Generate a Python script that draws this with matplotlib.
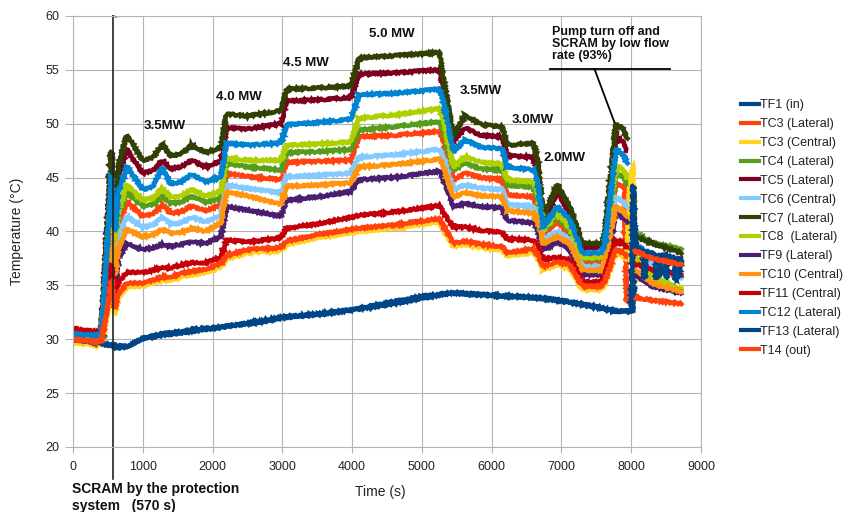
import numpy as np
import matplotlib
matplotlib.use("Agg")
import matplotlib.pyplot as plt

plt.rcParams['font.family'] = ['Liberation Sans', 'DejaVu Sans']

nan = np.nan

# sample times (s) shared by the thermocouple series
t = [0, 400, 470, 550, 600, 650, 770, 1000, 1150, 1280,
     1400, 1550, 1700, 1900, 2120, 2200, 2500, 2980, 3060, 3500,
     3980, 4100, 4600, 5250, 5300, 5450, 5620, 5850, 6150, 6220,
     6600, 6660, 6740, 6940, 7120, 7300, 7560, 7620, 7780, 7900,
     7935, 7990, 8025, 8050, 8300, 8720]

tf1 = [30.0, 29.6, 29.5, 29.4, 29.3, 29.2, 29.3, 30.1, 30.3, 30.5,
       30.6, 30.7, 30.9, 31.0, 31.1, 31.2, 31.4, 32.0, 32.1, 32.3,
       32.7, 32.8, 33.3, 34.1, 34.2, 34.3, 34.2, 34.1, 34.0, 34.0,
       33.9, 33.9, 33.8, 33.6, 33.4, 33.2, 32.9, 32.8, 32.6, 32.6,
       32.6, 32.6, 32.7, 38.3, 37.6, 37.2]
tc3_lat = [30.3, 30.0, 37.0, 42.0, 38.0, 40.5, 42.8, 41.4, 41.6, 42.5,
           41.7, 41.8, 42.4, 41.9, 42.5, 45.4, 45.1, 44.8, 46.4, 46.5,
           46.6, 48.8, 48.9, 49.3, 48.6, 44.8, 45.4, 45.0, 44.8, 43.4,
           43.2, 42.2, 39.7, 40.9, 39.8, 37.1, 37.1, 37.8, 44.6, 44.1,
           33.5, 33.5, 33.5, 33.9, 33.6, 33.3]
tc3_cen = [29.7, 29.4, 31.5, 35.0, 32.4, 33.8, 34.9, 34.9, 35.2, 35.5,
           35.5, 35.8, 36.0, 36.2, 36.7, 37.5, 38.0, 38.2, 38.8, 39.4,
           39.9, 40.0, 40.3, 40.9, 40.3, 38.6, 38.8, 38.5, 38.3, 37.7,
           38.1, 37.5, 36.4, 36.9, 36.6, 34.6, 34.6, 35.0, 38.0, 37.7,
           37.3, 45.0, 46.0, 35.8, 35.2, 34.8]
tc4 = [30.5, 30.3, 35.5, 42.5, 38.5, 41.5, 43.7, 42.3, 42.5, 43.3,
       42.6, 42.7, 43.3, 42.7, 43.1, 46.3, 46.0, 45.7, 47.3, 47.4,
       47.6, 49.4, 49.7, 50.2, 49.5, 45.7, 46.3, 45.8, 45.7, 44.3,
       44.1, 43.0, 40.0, 41.4, 40.1, 37.5, 37.5, 38.2, 45.5, 45.0,
       44.4, nan, nan, 39.9, 39.0, 38.3]
tc5 = [30.9, 30.6, 38.5, 47.3, 42.0, 45.0, 47.6, 45.4, 45.7, 46.6,
       45.8, 46.0, 46.6, 46.0, 46.5, 49.6, 49.5, 50.0, 52.1, 52.2,
       52.4, 54.6, 54.7, 55.0, 53.8, 48.4, 49.6, 48.9, 48.8, 47.0,
       46.9, 45.5, 40.9, 43.6, 41.7, 38.5, 38.5, 39.2, 48.8, 48.2,
       47.5, nan, nan, 37.5, 36.6, 35.8]
tc6 = [30.5, 30.4, 35.0, 41.0, 36.5, 39.5, 41.4, 40.4, 40.6, 41.3,
       40.7, 40.8, 41.3, 40.9, 41.5, 44.3, 44.0, 43.6, 45.1, 45.2,
       45.4, 46.9, 47.1, 47.6, 47.0, 43.9, 44.3, 44.0, 43.9, 42.5,
       42.3, 41.4, 39.2, 40.0, 39.2, 36.7, 36.7, 37.3, 43.2, 42.7,
       42.2, nan, nan, 38.9, 36.8, 35.7]
tc7 = [30.6, 30.4, 37.5, 47.5, 42.5, 46.0, 49.0, 46.6, 46.9, 48.1,
       47.0, 47.2, 48.0, 47.3, 47.8, 50.9, 50.7, 51.2, 53.2, 53.3,
       53.5, 56.1, 56.3, 56.6, 54.5, 48.8, 50.8, 49.9, 49.7, 48.0,
       48.2, 46.5, 41.3, 44.3, 42.3, 38.9, 38.9, 39.6, 50.1, 49.4,
       48.6, nan, nan, 39.6, 38.9, 38.0]
tc8 = [30.4, 30.2, 36.0, 43.5, 39.0, 42.0, 44.3, 42.9, 43.1, 44.0,
       43.2, 43.3, 43.9, 43.3, 43.7, 46.8, 46.6, 46.6, 48.0, 48.1,
       48.3, 50.5, 50.8, 51.4, 50.6, 46.0, 46.9, 46.4, 46.3, 44.8,
       44.6, 43.5, 40.1, 41.7, 40.4, 37.6, 37.6, 38.3, 46.2, 45.6,
       45.0, nan, nan, 37.6, 35.8, 34.6]
tf9 = [30.3, 30.2, 34.0, 39.5, 35.0, 37.5, 38.9, 38.3, 38.5, 38.8,
       38.6, 38.8, 39.0, 38.9, 39.5, 42.3, 42.0, 41.4, 42.9, 43.2,
       43.7, 44.8, 45.0, 45.6, 45.0, 42.3, 42.6, 42.3, 42.2, 41.0,
       40.8, 40.0, 38.3, 39.0, 38.3, 36.0, 36.0, 36.6, 41.7, 41.2,
       40.8, nan, nan, 36.0, 34.9, 34.3]
tc10 = [30.2, 30.0, 34.5, 40.5, 36.0, 38.5, 40.2, 39.5, 39.7, 40.2,
        39.8, 39.9, 40.3, 40.0, 40.8, 43.7, 43.3, 42.5, 44.2, 44.3,
        44.5, 46.0, 46.2, 46.7, 46.2, 43.2, 43.6, 43.3, 43.2, 41.9,
        41.7, 40.8, 38.9, 39.5, 38.9, 36.4, 36.4, 37.0, 42.3, 41.8,
        41.4, nan, nan, 36.5, 35.2, 34.4]
tf11 = [31.0, 30.6, 33.0, 37.0, 34.0, 35.3, 36.2, 36.2, 36.4, 36.7,
        36.6, 36.9, 37.1, 37.1, 37.6, 39.2, 39.0, 39.4, 40.3, 40.7,
        41.3, 41.5, 41.8, 42.4, 41.8, 40.4, 40.4, 40.1, 39.9, 39.3,
        39.2, 38.6, 37.4, 37.6, 37.4, 35.3, 35.3, 35.8, 39.2, 38.8,
        38.5, nan, nan, 37.0, 36.4, 36.0]
tc12 = [30.5, 30.3, 36.5, 45.0, 40.0, 43.5, 46.0, 43.9, 44.2, 46.0,
        44.4, 44.6, 45.3, 44.6, 45.1, 48.2, 48.0, 48.2, 49.9, 50.1,
        50.4, 52.7, 52.8, 53.2, 52.3, 47.4, 48.5, 47.8, 47.7, 46.0,
        45.7, 44.5, 40.4, 42.3, 41.1, 38.0, 38.0, 38.7, 47.6, 47.0,
        46.3, nan, nan, 38.8, 37.8, 37.0]
t14 = [30.0, 29.7, 32.0, 35.5, 32.8, 34.2, 35.2, 35.2, 35.5, 35.8,
       35.8, 36.1, 36.3, 36.5, 37.0, 37.8, 38.3, 38.5, 39.1, 39.7,
       40.2, 40.3, 40.6, 41.2, 40.6, 38.9, 39.1, 38.8, 38.6, 38.0,
       38.4, 37.8, 36.7, 37.2, 36.9, 34.9, 34.9, 35.3, 38.3, 38.0,
       37.7, nan, nan, 38.2, 37.5, 36.9]

# TF13 is logged on its own time base (spiky after the pump trip)
t13 = [0, 400, 770, 1000, 2000, 3000, 4000, 5000, 5450, 6000,
       6500, 7000, 7500, 7800, 8000, 8030, 8045, 8080, 8180, 8190,
       8210, 8350, 8365, 8385, 8400, 8420, 8490, 8505, 8520, 8620,
       8635, 8660, 8675, 8720]
tf13 = [30.0, 29.6, 29.3, 30.1, 31.0, 32.0, 32.7, 34.0, 34.3, 34.1,
        33.9, 33.6, 33.0, 32.6, 32.6, 44.3, 40.0, 38.5, 38.2, 35.6,
        38.1, 37.9, 35.5, 37.9, 35.8, 37.8, 37.8, 35.6, 37.7, 37.6,
        35.5, 37.6, 35.7, 37.5]

labels = ['TF1 (in)', 'TC3 (Lateral)', 'TC3 (Central)', 'TC4 (Lateral)',
          'TC5 (Lateral)', 'TC6 (Central)', 'TC7 (Lateral)', 'TC8  (Lateral)',
          'TF9 (Lateral)', 'TC10 (Central)', 'TF11 (Central)',
          'TC12 (Lateral)', 'TF13 (Lateral)', 'T14 (out)']
colors = ['#004586', '#ff420e', '#ffd320', '#579d1c', '#7e0021', '#83caff',
          '#314004', '#aecf00', '#4b1f6f', '#ff950e', '#c5000b', '#0084d1',
          '#004586', '#ff420e']

fig = plt.figure(figsize=(8.48, 5.12), dpi=100)
ax = fig.add_axes([0.0861, 0.127, 0.7406, 0.842])

series = [(t, tf1), (t, tc3_lat), (t, tc3_cen), (t, tc4), (t, tc5), (t, tc6),
          (t, tc7), (t, tc8), (t, tf9), (t, tc10), (t, tf11), (t, tc12),
          (t13, tf13), (t, t14)]
handles = []
for (x, y), lab, c in zip(series, labels, colors):
    ln, = ax.plot(x, y, color=c, lw=3.2, label=lab, solid_joinstyle='miter')
    ln.set_sketch_params(scale=0.9, length=4, randomness=3)
    handles.append(ln)

# power levels
power = [(1317, 49.8, '3.5MW'), (2375, 52.5, '4.0 MW'), (3338, 55.6, '4.5 MW'),
         (4566, 58.3, '5.0 MW'), (5841, 53.0, '3.5MW'), (6590, 50.35, '3.0MW'),
         (7045, 46.8, '2.0MW')]
for x, y, s in power:
    ax.text(x, y, s, ha='center', va='center', fontsize=9.5,
            fontweight='bold', color='#111111')

# pump trip note with underline and pointer
ax.text(6860, 59.1, 'Pump turn off and\nSCRAM by low flow\nrate (93%)',
        ha='left', va='top', fontsize=9, fontweight='bold',
        linespacing=1.05, color='#111111')
ax.plot([6830, 8550], [55.05, 55.05], color='black', lw=1.3)
ax.plot([7474, 7760], [55.05, 50.1], color='black', lw=1.3)

# SCRAM marker at 570 s
ax.plot([570, 570], [17.0, 60.0], color='#222222', lw=1.2, clip_on=False)
ax.plot([570, 620], [60.0, 59.9], color='#222222', lw=1.0, clip_on=False)
fig.text(72 / 848, 1 - 482 / 512, 'SCRAM by the protection\nsystem   (570 s)',
         ha='left', va='top', fontsize=10, fontweight='bold',
         linespacing=1.3, color='#111111')

ax.set_xlim(0, 9000)
ax.set_ylim(20, 60)
ax.set_xticks(np.arange(0, 9001, 1000))
ax.set_yticks(np.arange(20, 61, 5))
ax.grid(True, color='#b3b3b3', lw=0.8)
ax.set_axisbelow(True)
for sp in ax.spines.values():
    sp.set_color('#b3b3b3')
    sp.set_linewidth(0.8)
ax.tick_params(axis='y', length=5.8, pad=4, color='#b3b3b3',
               labelcolor='#222222', labelsize=9)
ax.tick_params(axis='x', length=4.3, pad=5.5, color='#b3b3b3',
               labelcolor='#222222', labelsize=9)

ax.set_xlabel('Time (s)', fontsize=10, color='#222222')
ax.set_ylabel('Temperature (°C)', fontsize=10, color='#222222')
ax.xaxis.set_label_coords(0.49, -0.088)
ax.yaxis.set_label_coords(-0.078, 0.5)

leg = fig.legend(handles=handles, loc='center left',
                 bbox_to_anchor=(736 / 848, 1 - 228 / 512), frameon=False,
                 fontsize=9, handlelength=1.4, handletextpad=0.1,
                 labelspacing=0.55, borderaxespad=0)
for h in leg.get_lines():
    h.set_linewidth(3.0)
    h.set_sketch_params(None)
for txt in leg.get_texts():
    txt.set_color('#222222')

fig.savefig('out.png', dpi=100)
